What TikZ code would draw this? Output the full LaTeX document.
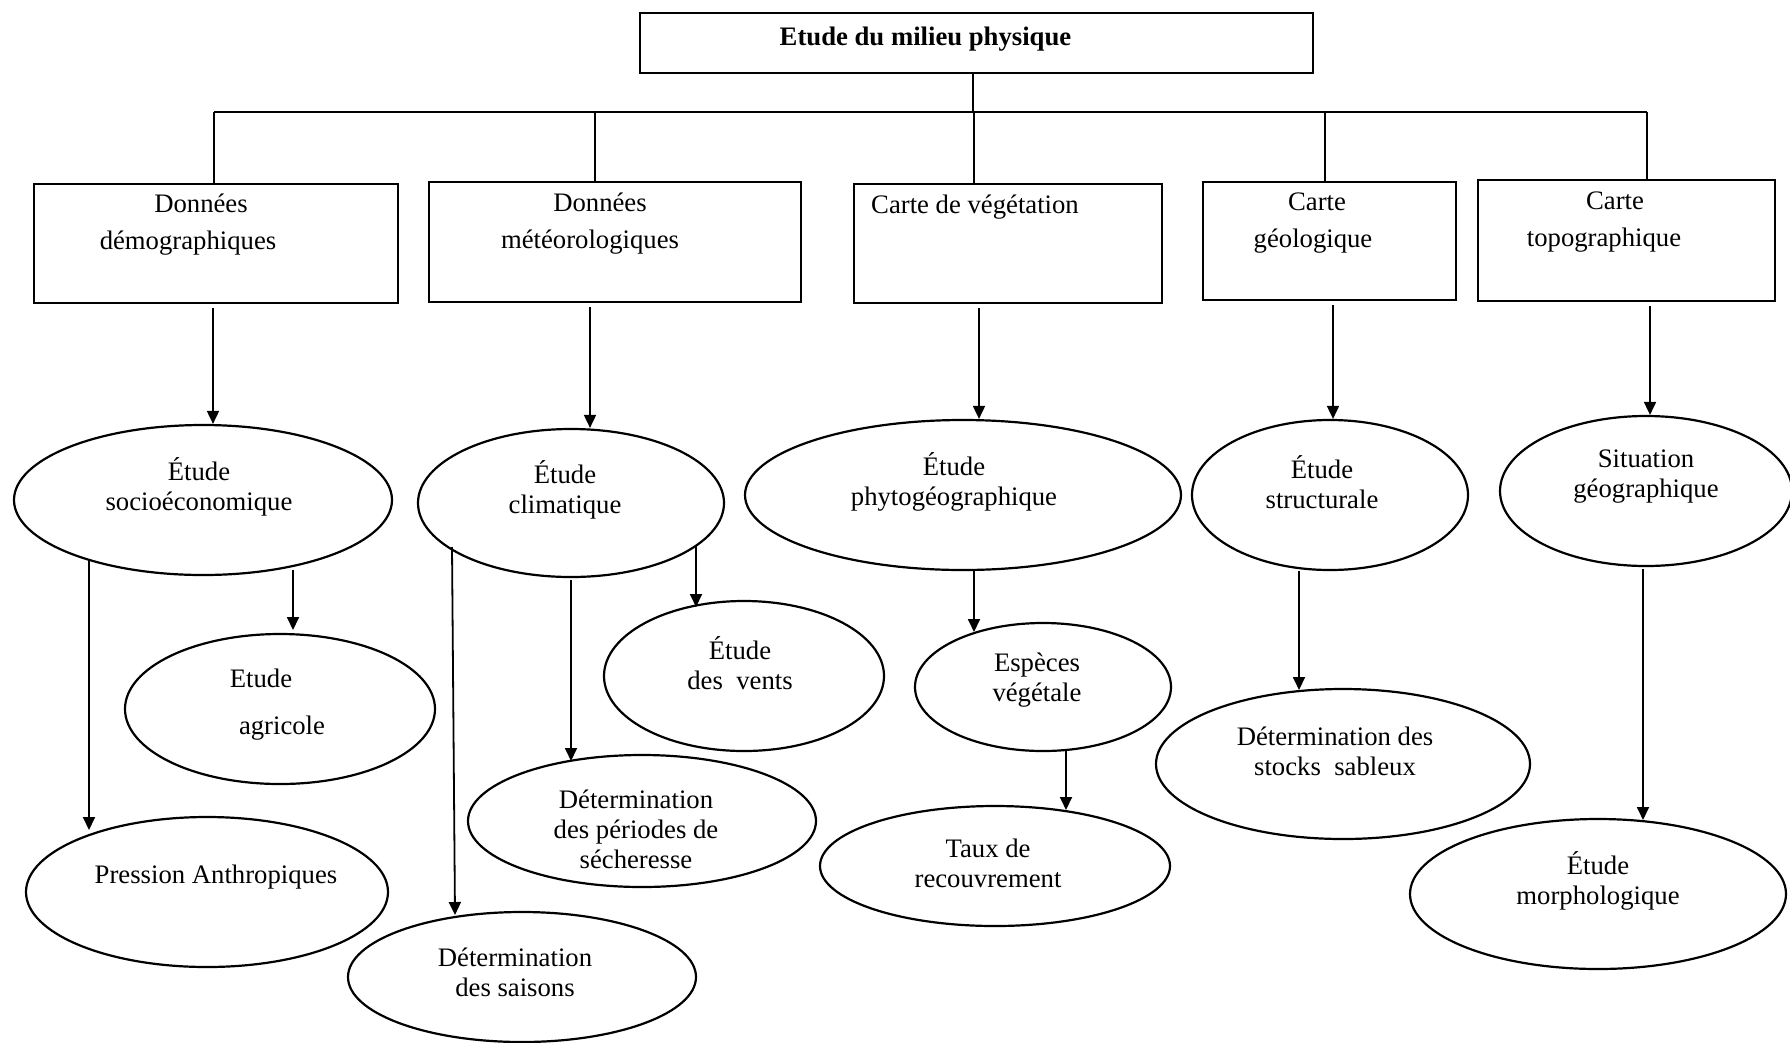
\documentclass[tikz,border=0pt]{standalone}
\usepackage{fontspec}
\setmainfont{Liberation Serif}
\usetikzlibrary{arrows.meta,shapes.geometric}

\tikzset{
  box/.style={draw, rectangle, line width=2.2pt, inner sep=0pt},
  oval/.style={draw, ellipse, line width=2.2pt, inner sep=0pt},
  txt/.style={align=center, font=\fontsize{26.7}{30}\selectfont},
  boxtxt/.style={align=center, font=\fontsize{26.7}{37}\selectfont},
  link/.style={line width=1.8pt},
  bus/.style={line width=2.6pt},
  arr/.style={line width=1.8pt, -{Triangle[length=13pt,width=12pt]}}
}

\begin{document}
\begin{tikzpicture}[x=1pt, y=-1pt]
    \useasboundingbox (0,0) rectangle (1790,1042);

    % Title
    \node[box, minimum width=673, minimum height=60,
          label={[txt, font=\fontsize{26.7}{30}\selectfont\bfseries, shift={(-51,-4)}]center:Etude du milieu physique}]
          (top) at (976.5,43) {};

    % Data boxes
    \node[box, minimum width=364, minimum height=119,
          label={[boxtxt, shift={(-28,-18.5)}]center:\hspace*{26pt}Données\\démographiques}]
          (demo) at (216,243.5) {};
    \node[box, minimum width=372, minimum height=120,
          label={[boxtxt, shift={(-25,-18.5)}]center:\hspace*{20pt}Données\\météorologiques}]
          (meteo) at (615,242) {};
    \node[box, minimum width=308, minimum height=119,
          label={[boxtxt, shift={(-33,-36.5)}]center:Carte de végétation}]
          (vege) at (1008,243.5) {};
    \node[box, minimum width=253, minimum height=118,
          label={[boxtxt, shift={(-16.5,-18)}]center:\hspace*{8pt}Carte\\géologique}]
          (geol) at (1329.5,241) {};
    \node[box, minimum width=297, minimum height=121,
          label={[boxtxt, shift={(-22.5,-18.5)}]center:\hspace*{22pt}Carte\\topographique}]
          (topo) at (1626.5,240.5) {};

    % Studies
    \node[oval, minimum width=378, minimum height=150,
          label={[txt, shift={(-4,-13.5)}]center:Étude\\socioéconomique}]
          (socio) at (203,500) {};
    \node[oval, minimum width=306, minimum height=148,
          label={[txt, shift={(-6,-13.5)}]center:Étude\\climatique}]
          (clim) at (571,503) {};
    \node[oval, minimum width=436, minimum height=150,
          label={[txt, shift={(-9,-13.5)}]center:Étude\\phytogéographique}]
          (phyto) at (963,495) {};
    \node[oval, minimum width=276, minimum height=150,
          label={[txt, shift={(-8,-12.5)}]center:Étude\\structurale}]
          (struc) at (1330,495) {};
    \node[oval, minimum width=292, minimum height=150,
          label={[txt, shift={(0,-14)}]center:Situation\\géographique}]
          (situ) at (1646,491) {};

    % Results
    \node[oval, minimum width=310, minimum height=150,
          label={[txt, shift={(-19,-4.5)}]center:Etude\\[17pt]\hspace*{42pt}agricole}]
          (agri) at (280,709) {};
    \node[oval, minimum width=362, minimum height=150,
          label={[txt, shift={(9,-15)}]center:Pression Anthropiques}]
          (press) at (207,892) {};
    \node[oval, minimum width=280, minimum height=150,
          label={[txt, shift={(-4,-12.5)}]center:Étude\\des\ \ vents}]
          (vents) at (744,676) {};
    \node[oval, minimum width=348, minimum height=132,
          label={[txt, shift={(-6,8.5)}]center:Détermination\\des périodes de\\sécheresse}]
          (sech) at (642,821) {};
    \node[oval, minimum width=348, minimum height=130,
          label={[txt, shift={(-7,-5)}]center:Détermination\\des saisons}]
          (sais) at (522,977) {};
    \node[oval, minimum width=256, minimum height=128,
          label={[txt, shift={(-6,-6.5)}]center:Espèces\\végétale}]
          (esp) at (1043,687) {};
    \node[oval, minimum width=350, minimum height=120,
          label={[txt, shift={(-7,-3)}]center:Taux de\\recouvrement}]
          (taux) at (995,866) {};
    \node[oval, minimum width=374, minimum height=150,
          label={[txt, shift={(-8,-13)}]center:Détermination des\\stocks\ \ sableux}]
          (stocks) at (1343,764) {};
    \node[oval, minimum width=376, minimum height=150,
          label={[txt, shift={(0,-13.5)}]center:Étude\\morphologique}]
          (morph) at (1598,894) {};

    % Tree
    \coordinate (hub) at (973,112);
    \draw[link] (top.south -| hub) -- (hub);
    \foreach \n/\x in {demo/214, meteo/595, vege/974, geol/1325, topo/1647} {
      \coordinate (br\n) at (\x,112);
      \draw[link] (br\n) -- (br\n |- \n.north);
    }
    \draw[bus] (brdemo) -- (brtopo);

    % Boxes to studies
    \foreach \a/\b/\dx in {demo/socio/-3, meteo/clim/-25, vege/phyto/-29,
                           geol/struc/3.5, topo/situ/23.5} {
      \coordinate (s\a) at ([shift={(\dx,4)}]\a.south);
      \draw[arr] (s\a) -- (s\a |- \b.north);
    }

    % Studies to results
    \foreach \a/\sx/\sy/\b/\ex/\ey in {socio/-114/60/press/-118/-62,
                                       socio/90/70/agri/13/-79,
                                       clim/-119/44/sais/-67/-62,
                                       clim/0/77/sech/-71/-60,
                                       clim/125/42/vents/-48/-69,
                                       phyto/11/76/esp/-69/-55,
                                       esp/23/63/taux/71/-56,
                                       struc/-31/76/stocks/-44/-74,
                                       situ/-3/78/morph/45/-74} {
      \draw[arr] ([shift={(\sx,\sy)}]\a.center) -- ([shift={(\ex,\ey)}]\b.center);
    }
\end{tikzpicture}
\end{document}
